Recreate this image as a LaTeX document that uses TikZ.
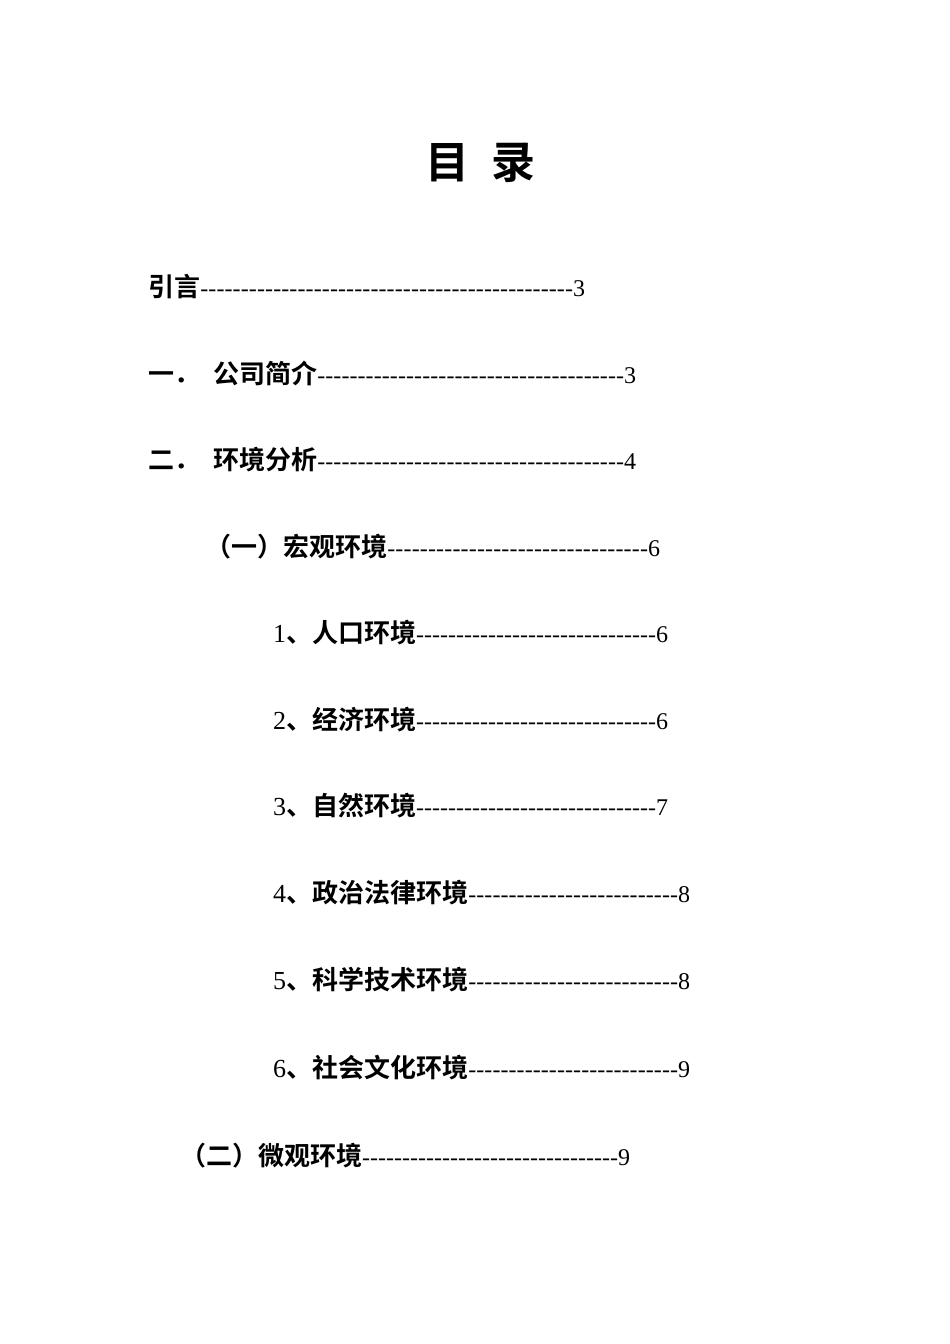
\documentclass[tikz,border=0pt]{standalone}
\usepackage{fontspec}
\setmainfont{Liberation Serif}
\newfontfamily\cjk{Noto Sans CJK SC}[BoldFont=* Bold]
\newcommand{\tocline}[3]{\hbox to #1{{\fontsize{26}{30}\selectfont\cjk\bfseries #2}\xleaders\hbox{-}\hfill #3}}
\begin{document}
\begin{tikzpicture}[x=1pt,y=-1pt,
  entry/.style={anchor=west,inner sep=0pt,font=\fontsize{24}{28}\selectfont}]
\useasboundingbox[fill=white] (0,0) rectangle (950,1344);
\node[inner sep=0pt,font=\fontsize{44}{50}\selectfont\cjk\bfseries] (title) at (480,163) {目\hspace{0.5em}录};
\node[entry] (e0) at (148,287) {\tocline{437pt}{引言}{3}};
\node[entry] (e1) at (148,373) {\tocline{488pt}{一．\hspace{0.5em}公司简介}{3}};
\node[entry] (e2) at (148,460) {\tocline{488pt}{二．\hspace{0.5em}环境分析}{4}};
\node[entry] (e3) at (205,547) {\tocline{455pt}{（一）宏观环境}{6}};
\node[entry] (e4) at (273,633) {\tocline{395pt}{{\normalfont 1}、人口环境}{6}};
\node[entry] (e5) at (273,720) {\tocline{395pt}{{\normalfont 2}、经济环境}{6}};
\node[entry] (e6) at (273,806) {\tocline{395pt}{{\normalfont 3}、自然环境}{7}};
\node[entry] (e7) at (273,893) {\tocline{417pt}{{\normalfont 4}、政治法律环境}{8}};
\node[entry] (e8) at (273,980) {\tocline{417pt}{{\normalfont 5}、科学技术环境}{8}};
\node[entry] (e9) at (273,1068) {\tocline{417pt}{{\normalfont 6}、社会文化环境}{9}};
\node[entry] (e10) at (180,1156) {\tocline{450pt}{（二）微观环境}{9}};
\end{tikzpicture}
\end{document}
